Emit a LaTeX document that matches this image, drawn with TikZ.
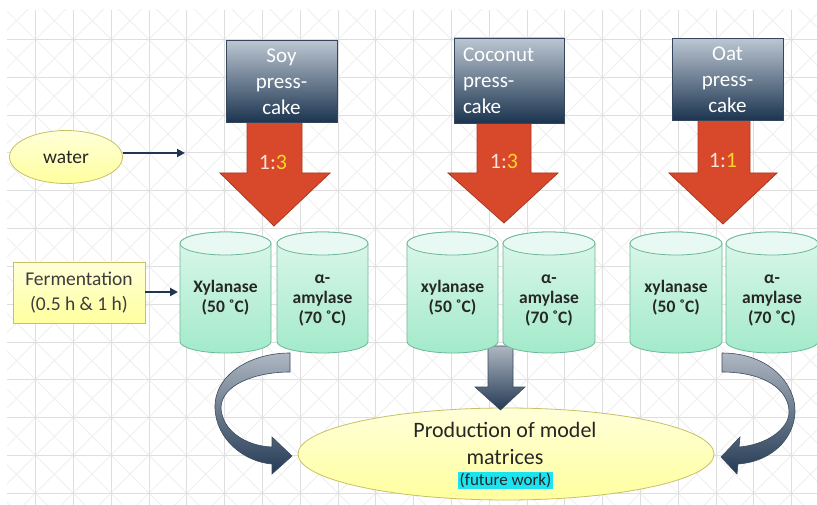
\documentclass[tikz,border=0pt]{standalone}
\usepackage{fontspec}
\setmainfont{Carlito}
\usetikzlibrary{arrows.meta,shapes.geometric}
\definecolor{gridc}{HTML}{DEDEDE}
\definecolor{diagc}{HTML}{EDEDED}
\definecolor{boxtop}{HTML}{BCC6D2}
\definecolor{boxmid}{HTML}{6E8094}
\definecolor{boxbot}{HTML}{1B344F}
\definecolor{boxedge}{HTML}{34465C}
\definecolor{redfill}{HTML}{D8482B}
\definecolor{rededge}{HTML}{A93821}
\definecolor{ratioyel}{HTML}{FFD42A}
\definecolor{ratiowht}{HTML}{FBE3DA}
\definecolor{cyltop}{HTML}{DDF7EC}
\definecolor{cylbot}{HTML}{A3EACA}
\definecolor{cyledge}{HTML}{6DB897}
\definecolor{yelltop}{HTML}{FFFFD9}
\definecolor{yellbot}{HTML}{FFFF9E}
\definecolor{yelledge}{HTML}{C7C066}
\definecolor{navy}{HTML}{1F3550}
\definecolor{garrtop}{HTML}{AEB7C2}
\definecolor{garrbot}{HTML}{243A54}
\definecolor{garredge}{HTML}{3B4B60}
\definecolor{hilite}{HTML}{1DE3F0}
\definecolor{txtdark}{HTML}{262626}
\newcommand\mycyl[2]{%
  \path[draw=cyledge, line width=0.8pt, top color=cyltop, bottom color=cylbot]
    (#1,243.5) -- (#1,341.5)
    arc[start angle=180, end angle=0, x radius={(#2-#1)/2}, y radius=11.5]
    -- (#2,243.5)
    arc[start angle=0, end angle=-180, x radius={(#2-#1)/2}, y radius=11.5] -- cycle;
  \path[draw=cyledge, line width=0.8pt, fill=cyltop!70!white]
    ({(#1+#2)/2},243.5) ellipse[x radius={(#2-#1)/2}, y radius=11.5];
}
\begin{document}
\begin{tikzpicture}[x=1pt, y=-1pt,
  srcbox/.style={draw=boxedge, line width=0.8pt, top color=boxtop, middle color=boxmid,
    bottom color=boxbot, minimum width=111pt, minimum height=82pt, inner sep=0pt,
    text=white, font=\fontsize{21}{26}\selectfont},
  redarr/.style={fill=redfill, draw=rededge, line width=0.8pt},
  ratio/.style={font=\fontsize{22}{26}\selectfont, inner sep=0pt},
  cyltxt/.style={font=\bfseries\fontsize{17.5}{20}\selectfont, align=center, text=txtdark, inner sep=0pt},
  yellip/.style={ellipse, draw=yelledge, line width=0.8pt, top color=yelltop, bottom color=yellbot, inner sep=0pt},
  navyarr/.style={draw=navy, line width=2.2pt, -{Triangle[length=8pt,width=8pt]}},
  garr/.style={draw=garredge, line width=0.6pt, top color=garrtop, bottom color=garrbot}]
\useasboundingbox (0,0) rectangle (817,505);
\fill[white] (0,0) rectangle (817,505);
% background grid
\begin{scope}
  \clip (7,10) rectangle (817,505);
  \foreach \k in {-14,...,22} \draw[diagc, line width=0.7pt] ({-4+37.8*\k},0) -- ({501+37.8*\k},505);
  \foreach \k in {-2,...,34} \draw[diagc, line width=0.7pt] ({75+37.8*\k},0) -- ({-430+37.8*\k},505);
  \foreach \k in {-1,...,21} \draw[gridc, line width=0.8pt] ({35.5+37.8*\k},10) -- ({35.5+37.8*\k},505);
  \foreach \k in {-1,...,12} \draw[gridc, line width=0.8pt] (7,{39.5+37.8*\k}) -- (817,{39.5+37.8*\k});
\end{scope}
% red arrows
\path[redarr] (247,115) -- (302,115) -- (302,173) -- (330,173) -- (274,226) -- (220,173) -- (247,173) -- cycle;
\path[redarr] (477,115) -- (531,115) -- (531,173) -- (558,173) -- (504,223) -- (448,173) -- (477,173) -- cycle;
\path[redarr] (698,115) -- (750,115) -- (750,173) -- (777,173) -- (723,224) -- (669,173) -- (698,173) -- cycle;
% source boxes
\node[srcbox, align=center] (soy) at (281.5,81.5) {Soy\\press-\\cake};
\node[srcbox, minimum width=110pt, minimum height=85pt, text width=92pt, align=left] (coco) at (509,80.5) {Coconut\\press-\\cake};
\node[srcbox, align=center] (oat) at (727.5,79.5) {Oat\\press-\\cake};
% ratios
\node[ratio] (r1) at (273,162) {\textcolor{ratiowht}{1:}\textcolor{ratioyel}{3}};
\node[ratio] (r2) at (504,161) {\textcolor{ratiowht}{1:}\textcolor{ratioyel}{3}};
\node[ratio] (r3) at (723,161) {\textcolor{ratiowht}{1:}\textcolor{ratioyel}{1}};
% water and fermentation
\node[yellip, minimum width=113pt, minimum height=53pt, font=\fontsize{19.5}{23}\selectfont, text=txtdark] (water) at (66,157) {water};
\coordinate (wend) at (185,153);
\draw[navyarr] (water.east |- wend) -- (wend);
\node[draw=yelledge, line width=0.8pt, top color=yelltop, bottom color=yellbot, minimum width=132pt, minimum height=61pt,
  align=center, font=\fontsize{19.5}{25}\selectfont, text=txtdark!90!white, inner sep=0pt] (ferm) at (79,292.5) {Fermentation\\(0.5 h \& 1 h)};
\coordinate (fend) at (178,292);
\draw[navyarr] (ferm.east |- fend) -- (fend);
% production ellipse
\node[yellip, minimum width=416pt, minimum height=92pt] (prod) at (506,454) {};
\node[font=\fontsize{22}{27}\selectfont, align=center, text=txtdark, inner sep=0pt] (prodtxt) at (505,443) {Production of model\\matrices};
\node[fill=hilite, font=\fontsize{17}{20}\selectfont, text=txtdark, inner xsep=1.5pt, inner ysep=1.5pt] (future) at (505.5,480.5) {(future work)};
% grey arrows
\path[garr] (488,346) -- (513,346) -- (513,387) -- (525,387) -- (500.5,410) -- (475,387) -- (488,387) -- cycle;
\path[garr] (290,353) .. controls (250,353) and (214,375) .. (215,408)
  .. controls (216,440) and (245,462) .. (272,464) -- (272,474) -- (292,456) -- (272,437) -- (272,447)
  .. controls (245,446) and (222,430) .. (221,408)
  .. controls (221,385) and (255,372) .. (290,372) -- cycle;
\path[garr] (722,353) .. controls (770,353) and (796,385) .. (795,412)
  .. controls (794,440) and (770,462) .. (738,464) -- (737,474) -- (721,457) -- (740,437) -- (739,447)
  .. controls (765,445) and (789,430) .. (789,412)
  .. controls (789,390) and (765,372) .. (722,372) -- cycle;
% cylinders
\mycyl{180}{271}
\mycyl{277}{368}
\mycyl{407}{498}
\mycyl{503}{595}
\mycyl{630}{722}
\mycyl{726}{818}
\node[cyltxt] (sx) at (225.5,298) {Xylanase\\(50 ˚C)};
\node[cyltxt] (sa) at (322.5,301) {α-\\amylase\\(70 ˚C)};
\node[cyltxt] (cx) at (452.5,298) {xylanase\\(50 ˚C)};
\node[cyltxt] (ca) at (549,301) {α-\\amylase\\(70 ˚C)};
\node[cyltxt] (ox) at (676,298) {xylanase\\(50 ˚C)};
\node[cyltxt] (oa) at (772,301) {α-\\amylase\\(70 ˚C)};
\end{tikzpicture}
\end{document}
